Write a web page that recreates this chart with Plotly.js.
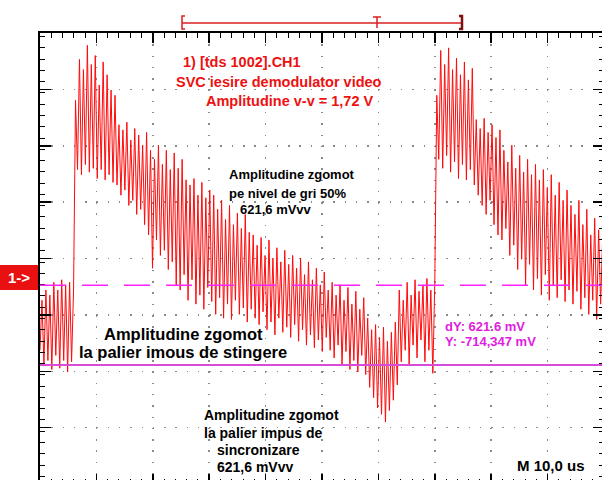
<!DOCTYPE html>
<html>
<head>
<meta charset="utf-8">
<script src="https://cdn.plot.ly/plotly-3.0.1.min.js"></script>
<style>
html,body{margin:0;padding:0;background:#fff;overflow:hidden;width:602px;height:480px;}
#chart{width:606px;height:486px;}
</style>
</head>
<body>
<div id="chart"></div>
<script>
// ---- data (volts), sampled every 0.35 us ----
const sampleStep = 0.35; // us
// blanking level before the first line (back porch noise)
const blankingSamples = [-0.60,-0.21,-0.71,-0.13,-0.68,-0.17,-0.75,-0.07,-0.64,-0.13,-0.74,-0.05,-0.68,-0.09,-0.77,-0.07,-0.69,-0.13];
// first active video line (ramp with noise + sync dip)
const line1Samples = [
 1.35,0.81,1.67,0.77,1.59,0.85,1.78,0.79,1.63,0.82,1.70,0.74,1.47,0.81,1.65,0.73,1.55,0.77,1.43,0.71,
 1.39,0.69,1.16,0.61,1.12,0.65,1.18,0.53,1.04,0.57,1.13,0.46,1.08,0.50,1.00,0.38,1.10,0.30,0.96,0.04,
 0.89,0.26,1.00,0.14,0.85,0.18,0.96,0.03,0.81,0.09,0.94,-0.09,0.82,-0.13,0.89,-0.01,
 0.73,-0.21,0.69,-0.05,0.74,-0.24,0.61,-0.17,0.71,-0.28,0.59,-0.11,0.65,-0.22,
 0.61,-0.32,0.50,-0.19,0.57,-0.35,0.42,-0.24,0.53,-0.36,0.38,-0.21,0.47,-0.32,0.35,-0.27,0.46,-0.38,0.32,-0.28,
 0.30,-0.35,0.22,-0.40,0.28,-0.30,0.14,-0.44,0.26,-0.38,0.12,-0.48,0.20,-0.35,0.09,-0.46,0.18,-0.42,0.07,-0.50,0.14,-0.40,0.04,
 -0.53,0.12,-0.44,-0.01,-0.56,0.09,-0.48,-0.05,-0.58,0.04,-0.52,-0.09,-0.61,0.01,-0.50,-0.13,-0.60,
 -0.07,-0.66,-0.17,-0.56,-0.09,-0.71,-0.21,-0.61,-0.11,-0.75,-0.24,-0.68,-0.14,-0.77,-0.28,-0.64,-0.19,-0.79,
 -0.35,-0.89,-0.44,-0.97,-0.40,-1.05,-0.50,-1.10,-0.42,-1.16,-0.53,-1.07,-0.46,-0.99,-0.38,-0.87,
 -0.13,-0.69,-0.21,-0.60,-0.07,-0.71,-0.17,-0.56,-0.05,-0.66,-0.14,-0.52,-0.09,-0.69,-0.04,-0.60,-0.13,-0.78,-0.07
];
// second line start
const line2Samples = [
 1.39,0.89,1.74,0.82,1.63,0.92,1.76,0.79,1.59,0.87,1.68,0.74,1.55,0.85,1.65,0.73,1.51,0.81,1.60,0.69,
 1.20,0.61,1.13,0.53,1.21,0.46,1.10,0.57,1.16,0.38,1.06,0.30,1.12,
 0.26,0.96,0.35,0.87,0.14,1.00,0.22,0.82,0.03,0.92,0.11,0.79,-0.09,0.89,0.07,0.77,-0.13,0.85,-0.04,
 0.73,-0.17,0.81,-0.01,0.67,-0.21,0.77,-0.09,0.61,-0.19,0.71,-0.05,0.57,-0.22,0.65,-0.13,
 0.53,-0.24,0.46,-0.14,0.57,-0.28,0.38,-0.19,0.50,-0.32,0.30,-0.21,0.43,-0.36,0.34,-0.24,0.26
];
// cursors: [Y cursor, dY] in volts
const cursorLabels = ['Y', 'dY'];
const cursorValues = [-0.714347, 0.6216];

const traceV = blankingSamples.concat(line1Samples, line2Samples);
const timeUs = traceV.map((_, i) => i * sampleStep);

// ---- scope scales ----
const voltsPerDiv = 0.44, centerV = 0.116;
const yRange = [centerV - 4 * voltsPerDiv, centerV + 4 * voltsPerDiv];

const cursorSolid = cursorValues[0];
const cursorDashed = cursorValues[0] + cursorValues[1];

const F = 'Liberation Sans, Arial, sans-serif';
const red = '#ee1111', mag = '#e020e0';
function ann(text, x, y, color, size) {
  return {text: '<b>' + text + '</b>', xref: 'paper', yref: 'paper', x: x, y: y,
    xanchor: 'left', yanchor: 'middle', showarrow: false,
    font: {family: F, size: size, color: color}};
}
// px -> paper helpers (plot area: left 40, top 33, 564 x 451)
const PX = p => (p - 40) / 564, PY = p => (484 - p) / 451;

const axisCommon = {
  showline: true, linecolor: '#000', linewidth: 2, mirror: 'ticks',
  ticks: 'inside', tickcolor: '#000', tickwidth: 1.5,
  showticklabels: false, zeroline: false,
  showgrid: true, gridcolor: '#8a8a8a', gridwidth: 1.5, griddash: '1.5px,9.78px',
  fixedrange: true
};

const layout = {
  width: 606, height: 486,
  margin: {l: 40, r: 2, t: 33, b: 2},
  paper_bgcolor: '#fff', plot_bgcolor: '#fff',
  showlegend: false,
  xaxis: Object.assign({}, axisCommon, {range: [0, 100], tick0: 0, dtick: 10, ticklen: 10,
    minor: {dtick: 2, ticks: 'inside', ticklen: 5, tickcolor: '#000', tickwidth: 1, showgrid: false}}),
  yaxis: Object.assign({}, axisCommon, {range: yRange, tick0: yRange[0], dtick: voltsPerDiv, ticklen: 11,
    minor: {dtick: voltsPerDiv / 5, ticks: 'inside', ticklen: 5, tickcolor: '#000', tickwidth: 1, showgrid: false}}),
  shapes: [
    {type: 'line', xref: 'paper', yref: 'y', x0: 0, x1: 1, y0: cursorDashed, y1: cursorDashed, layer: 'above',
      line: {color: '#ff22ff', width: 1.5, dash: '26px,16px'}},
    {type: 'line', xref: 'paper', yref: 'y', x0: 0, x1: 1, y0: cursorSolid, y1: cursorSolid, layer: 'above',
      line: {color: '#d84ad8', width: 2}},
    // record window bracket on top
    {type: 'line', xref: 'paper', yref: 'paper', x0: PX(182), x1: PX(462), y0: PY(23), y1: PY(23), line: {color: '#d82020', width: 1.5}},
    {type: 'path', xref: 'paper', yref: 'paper', path: `M${PX(185)},${PY(16)} L${PX(182)},${PY(16)} L${PX(182)},${PY(29)} L${PX(185)},${PY(29)}`, line: {color: '#d82020', width: 1.5}},
    {type: 'path', xref: 'paper', yref: 'paper', path: `M${PX(459)},${PY(16)} L${PX(462)},${PY(16)} L${PX(462)},${PY(29)} L${PX(459)},${PY(29)}`, line: {color: '#801010', width: 2.5}},
    // trigger position "T" marker
    {type: 'path', xref: 'paper', yref: 'paper', path: `M${PX(373)},${PY(17)} L${PX(381)},${PY(17)} M${PX(377)},${PY(17)} L${PX(377)},${PY(28)}`, line: {color: '#d82020', width: 1.5}},
    // channel 1 ground marker
    {type: 'rect', xref: 'paper', yref: 'paper', x0: PX(0), x1: PX(38), y0: PY(290), y1: PY(265), fillcolor: '#e81010', line: {width: 0}}
  ],
  annotations: [
    {text: '<b>1-></b>', xref: 'paper', yref: 'paper', x: PX(19), y: PY(277), xanchor: 'center', yanchor: 'middle', showarrow: false, font: {family: F, size: 15, color: '#fff'}},
    ann('1) [tds 1002].CH1', PX(181), PY(62), red, 14.5),
    ann('SVC iesire demodulator video', PX(174), PY(82), red, 14.5),
    ann('Amplitudine v-v = 1,72 V', PX(204), PY(101), red, 14.5),
    ann('Amplitudine zgomot', PX(227), PY(174), '#000', 13),
    ann('pe nivel de gri 50%', PX(227), PY(193), '#000', 13),
    ann('621,6 mVvv', PX(238), PY(209), '#000', 13),
    ann('Amplitudine zgomot', PX(102), PY(334), '#000', 16.5),
    ann('la palier imous de stingere', PX(77), PY(352), '#000', 16.5),
    ann('Amplitudine zgomot', PX(202), PY(415), '#000', 14),
    ann('la palier impus de', PX(202), PY(433), '#000', 14),
    ann('sincronizare', PX(215), PY(450), '#000', 14),
    ann('621,6 mVvv', PX(215), PY(467), '#000', 14),
    ann('dY: 621.6 mV', PX(443), PY(326), mag, 13),
    ann('Y: -714,347 mV', PX(443), PY(342), mag, 13),
    ann('M 10,0 us', PX(515), PY(465), '#000', 15)
  ]
};

const data = [{
  type: 'scatter', mode: 'lines', x: timeUs, y: traceV,
  line: {color: '#ff0a0a', width: 1}, hoverinfo: 'skip'
}];

Plotly.newPlot('chart', data, layout, {staticPlot: true, displayModeBar: false});
</script>
</body>
</html>
